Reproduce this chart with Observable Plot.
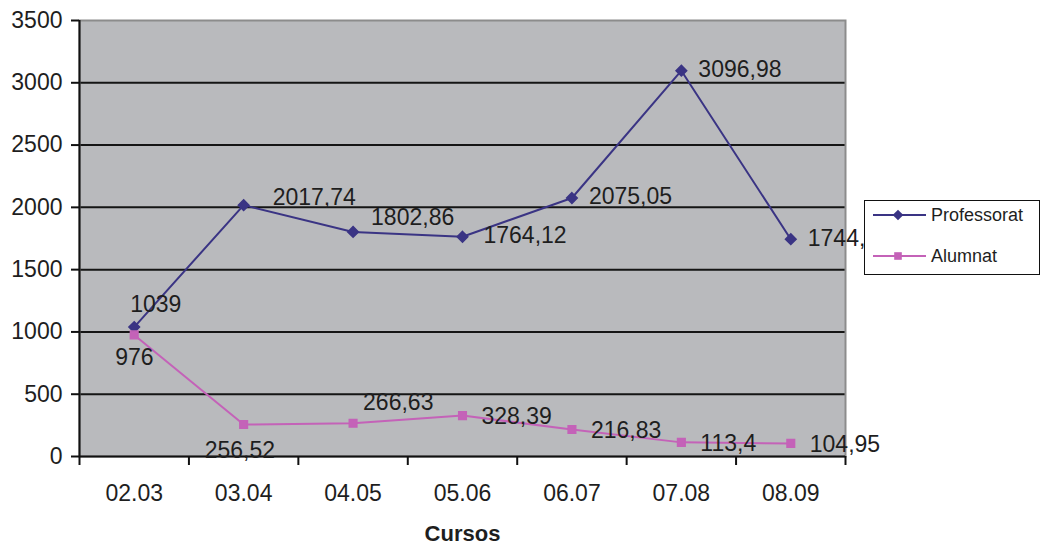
<!DOCTYPE html>
<html>
<head>
<meta charset="utf-8">
<script src="https://cdn.jsdelivr.net/npm/d3@7"></script>
<script src="https://cdn.jsdelivr.net/npm/@observablehq/plot@0.6"></script>
<style>
  html, body { margin: 0; padding: 0; background: #fff; }
  #wrap { position: relative; width: 1043px; height: 547px; font-family: "Liberation Sans", Arial, sans-serif; }
  #legend { position: absolute; left: 864px; top: 200px; width: 174px; height: 73px; background: #fff; border: 1.5px solid #111; }
</style>
</head>
<body>
<div id="wrap"><div id="legend"></div></div>
<script>
const cursos = ["02.03", "03.04", "04.05", "05.06", "06.07", "07.08", "08.09"];
const professorat = [1039, 2017.74, 1802.86, 1764.12, 2075.05, 3096.98, 1744.12];
const alumnat = [976, 256.52, 266.63, 328.39, 216.83, 113.4, 104.95];
const yTicks = [0, 500, 1000, 1500, 2000, 2500, 3000, 3500];
const seriesNames = ["Professorat", "Alumnat"];

const navy = "#3a3484";
const pink = "#c462b8";
const ink = "#1e1e1e";

const prof = cursos.map((c, i) => ({i, curs: c, v: professorat[i]}));
const alum = cursos.map((c, i) => ({i, curs: c, v: alumnat[i]}));
const fmt = d => String(d.v).replace(".", ",");

const labelStyle = {x: "i", y: "v", text: fmt, textAnchor: "start", fontSize: 23, fill: ink};
const pick = (idx) => (d) => idx.includes(d.i);

const chart = Plot.plot({
  width: 1043,
  height: 547,
  marginLeft: 79,
  marginRight: 198,
  marginTop: 20,
  marginBottom: 91,
  style: {fontFamily: "'Liberation Sans', Arial, sans-serif", color: ink, background: "transparent", overflow: "visible"},
  x: {type: "linear", domain: [-0.5, cursos.length - 0.5], axis: null},
  y: {domain: [0, 3500], axis: null},
  marks: [
    Plot.frame({fill: "#b9babd"}),
    Plot.ruleY(yTicks.slice(1, -1), {stroke: "#151515", strokeWidth: 2}),
    Plot.frame({stroke: "#8c8c8c", strokeWidth: 2}),
    Plot.ruleY([0], {stroke: "#111", strokeWidth: 2}),
    Plot.ruleX([-0.5], {stroke: "#111", strokeWidth: 2}),
    Plot.axisY({ticks: yTicks, tickFormat: d => String(d), tickSize: 8, tickPadding: 9, fontSize: 23, stroke: "#111", strokeWidth: 2, label: null}),
    Plot.axisX({ticks: d3.range(-0.5, cursos.length), tickSize: 9, tickFormat: () => "", stroke: "#111", strokeWidth: 2, label: null}),
    Plot.axisX({ticks: d3.range(cursos.length), tickSize: 0, tickPadding: 28, tickFormat: i => cursos[i], fontSize: 23, label: null}),
    Plot.text(["Cursos"], {frameAnchor: "bottom", lineAnchor: "middle", dy: 77, fontWeight: "bold", fontSize: 22, fill: ink}),
    Plot.line(prof, {x: "i", y: "v", stroke: navy, strokeWidth: 2}),
    Plot.line(alum, {x: "i", y: "v", stroke: pink, strokeWidth: 2}),
    Plot.dot(prof, {x: "i", y: "v", symbol: "diamond2", r: 4.8, fill: navy, stroke: navy}),
    Plot.dot(alum, {x: "i", y: "v", symbol: "square", r: 4.3, fill: pink, stroke: pink}),
    // Professorat labels
    Plot.text(prof, {...labelStyle, filter: pick([0]), dx: -4, dy: -22}),
    Plot.text(prof, {...labelStyle, filter: pick([1]), dx: 29, dy: -8}),
    Plot.text(prof, {...labelStyle, filter: pick([2]), dx: 18, dy: -14}),
    Plot.text(prof, {...labelStyle, filter: pick([3]), dx: 21, dy: -1}),
    Plot.text(prof, {...labelStyle, filter: pick([4, 5, 6]), dx: 17, dy: -1}),
    // Alumnat labels
    Plot.text(alum, {...labelStyle, filter: pick([0]), dx: -19, dy: 23}),
    Plot.text(alum, {...labelStyle, filter: pick([1]), dx: -39, dy: 26}),
    Plot.text(alum, {...labelStyle, filter: pick([2]), dx: 10, dy: -21}),
    Plot.text(alum, {...labelStyle, filter: pick([3, 4, 5, 6]), dx: 19, dy: 1})
  ]
});
chart.style.position = "absolute";
chart.style.left = "0";
chart.style.top = "0";
const wrap = document.getElementById("wrap");
wrap.insertBefore(chart, wrap.firstChild);

// Legend
const leg = d3.select("#legend").append("svg").attr("width", 174).attr("height", 73)
  .style("display", "block");
const items = [
  {name: seriesNames[0], color: navy, sym: d3.symbolDiamond2, size: 72, y: 14},
  {name: seriesNames[1], color: pink, sym: d3.symbolSquare, size: 58, y: 55}
];
items.forEach(it => {
  leg.append("line").attr("x1", 8).attr("x2", 61).attr("y1", it.y).attr("y2", it.y)
    .attr("stroke", it.color).attr("stroke-width", 2);
  leg.append("path").attr("d", d3.symbol(it.sym, it.size)())
    .attr("transform", `translate(33,${it.y})`).attr("fill", it.color);
  leg.append("text").attr("x", 66).attr("y", it.y).attr("dy", "0.35em")
    .attr("font-size", 18).attr("fill", ink)
    .attr("font-family", "'Liberation Sans', Arial, sans-serif").text(it.name);
});
</script>
</body>
</html>
